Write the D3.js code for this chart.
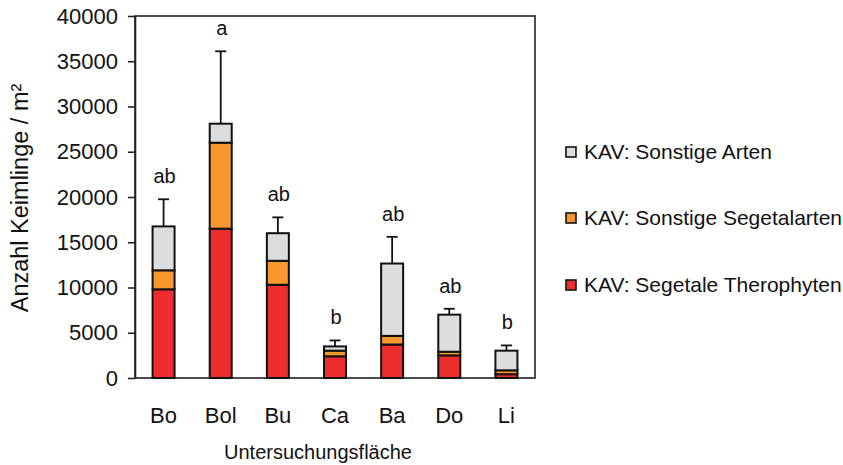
<!DOCTYPE html>
<html>
<head>
<meta charset="utf-8">
<script src="https://cdn.jsdelivr.net/npm/d3@7"></script>
<style>
  html, body { margin: 0; padding: 0; background: #fff; }
  svg { display: block; font-family: "Liberation Sans", Arial, sans-serif; }
</style>
</head>
<body>
<svg id="chart" width="843" height="465"></svg>
<script>
// Study sites (Untersuchungsflächen)
const sites = ["Bo", "Bol", "Bu", "Ca", "Ba", "Do", "Li"];

// Seedlings per m², stacked from bottom to top
const segetaleTherophyten = [9800, 16500, 10300, 2400, 3700, 2500, 420];
const sonstigeSegetalarten = [2100, 9500, 2650, 620, 950, 400, 430];
const sonstigeArten = [4850, 2100, 3050, 470, 8000, 4100, 2170];

// Upper error (standard deviation) on the total
const errorUp = [3000, 8000, 1750, 660, 2950, 650, 580];

// Letters from the significance test
const letters = ["ab", "a", "ab", "b", "ab", "ab", "b"];

const yTicks = [0, 5000, 10000, 15000, 20000, 25000, 30000, 35000, 40000];

const seriesKeys = ["ther", "seg", "son"];
const seriesNames = {
  son: "KAV: Sonstige Arten",
  seg: "KAV: Sonstige Segetalarten",
  ther: "KAV: Segetale Therophyten"
};
const colors = { ther: "#ee2d2e", seg: "#f7972d", son: "#dcdddf" };

const rows = sites.map((s, i) => ({
  site: s,
  ther: segetaleTherophyten[i],
  seg: sonstigeSegetalarten[i],
  son: sonstigeArten[i],
  err: errorUp[i],
  letter: letters[i]
}));

const svg = d3.select("#chart");
const plot = { left: 135, right: 535, top: 16, bottom: 378 };

const x = d3.scaleBand()
  .domain(sites)
  .range([plot.left, plot.right])
  .paddingInner(0.615)
  .paddingOuter(0.3075);

const y = d3.scaleLinear()
  .domain([0, 40000])
  .range([plot.bottom, plot.top]);

const stacked = d3.stack().keys(seriesKeys)(rows);
const total = d => d.ther + d.seg + d.son;

// Plot frame
svg.append("rect")
  .attr("x", plot.left).attr("y", plot.top)
  .attr("width", plot.right - plot.left)
  .attr("height", plot.bottom - plot.top)
  .attr("fill", "none")
  .attr("stroke", "#222")
  .attr("stroke-width", 1.6);

// Error bars (behind the bars)
const eb = svg.append("g")
  .attr("stroke", "#111")
  .attr("stroke-width", 1.8);
rows.forEach(d => {
  const cx = x(d.site) + x.bandwidth() / 2;
  eb.append("line")
    .attr("x1", cx).attr("x2", cx)
    .attr("y1", y(total(d))).attr("y2", y(total(d) + d.err));
  eb.append("line")
    .attr("x1", cx - 5.5).attr("x2", cx + 5.5)
    .attr("y1", y(total(d) + d.err)).attr("y2", y(total(d) + d.err));
});

// Stacked bars
svg.append("g")
  .selectAll("g")
  .data(stacked)
  .join("g")
  .attr("fill", s => colors[s.key])
  .selectAll("rect")
  .data(s => s)
  .join("rect")
  .attr("x", d => x(d.data.site))
  .attr("width", x.bandwidth())
  .attr("y", d => y(d[1]))
  .attr("height", d => y(d[0]) - y(d[1]))
  .attr("stroke", "#111")
  .attr("stroke-width", 2);

// Significance letters
svg.append("g")
  .selectAll("text")
  .data(rows)
  .join("text")
  .attr("x", d => x(d.site) + x.bandwidth() / 2 + 1)
  .attr("y", d => y(total(d) + d.err) - 16)
  .attr("text-anchor", "middle")
  .attr("font-size", 20)
  .attr("fill", "#111")
  .text(d => d.letter);

// Y axis
const yAxis = svg.append("g")
  .attr("transform", `translate(${plot.left},0)`)
  .call(d3.axisLeft(y).tickValues(yTicks).tickSize(7).tickSizeOuter(0).tickPadding(10).tickFormat(d3.format("d")));
yAxis.select(".domain").attr("stroke", "#222").attr("stroke-width", 1.6);
yAxis.selectAll(".tick line").attr("stroke", "#222").attr("stroke-width", 1.6);
yAxis.selectAll(".tick text")
  .attr("font-size", 22)
  .attr("font-family", "Liberation Sans, Arial, sans-serif")
  .attr("fill", "#111");

// X axis labels
const xAxis = svg.append("g")
  .attr("transform", `translate(0,${plot.bottom})`)
  .call(d3.axisBottom(x).tickSize(0).tickPadding(29));
xAxis.select(".domain").remove();
xAxis.selectAll(".tick text")
  .attr("font-size", 22)
  .attr("font-family", "Liberation Sans, Arial, sans-serif")
  .attr("fill", "#111");

// Axis titles
svg.append("text")
  .attr("x", (plot.left + plot.right) / 2 - 17)
  .attr("y", 459)
  .attr("text-anchor", "middle")
  .attr("font-size", 20)
  .attr("fill", "#111")
  .text("Untersuchungsfläche");

svg.append("text")
  .attr("transform", "translate(28,198) rotate(-90)")
  .attr("text-anchor", "middle")
  .attr("font-size", 23.5)
  .attr("fill", "#111")
  .text("Anzahl Keimlinge / m²");

// Legend
const legendOrder = ["son", "seg", "ther"];
const legendY = [152, 218, 285];
const lg = svg.append("g");
legendOrder.forEach((k, i) => {
  lg.append("rect")
    .attr("x", 566).attr("y", legendY[i] - 5)
    .attr("width", 10).attr("height", 10)
    .attr("fill", colors[k])
    .attr("stroke", "#111")
    .attr("stroke-width", 1.6);
  lg.append("text")
    .attr("x", 584).attr("y", legendY[i])
    .attr("dy", "0.35em")
    .attr("font-size", 21)
    .attr("fill", "#111")
    .text(seriesNames[k]);
});
</script>
</body>
</html>
